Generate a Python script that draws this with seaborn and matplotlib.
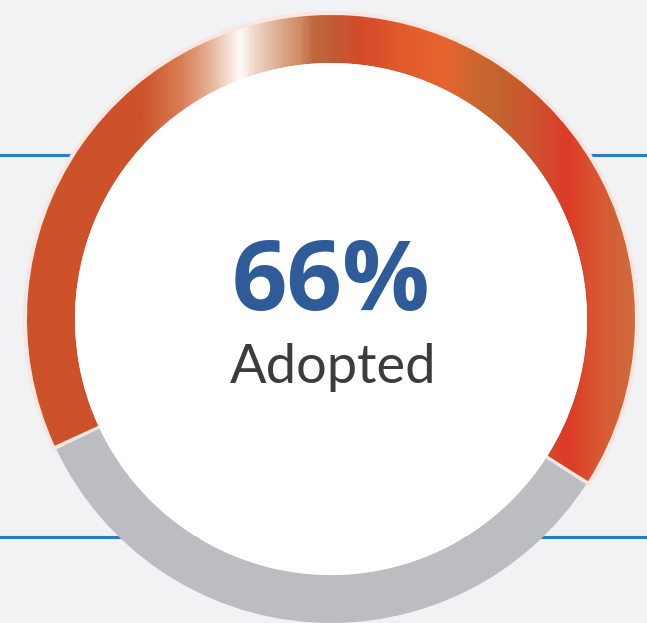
import numpy as np
import matplotlib.pyplot as plt
import seaborn as sns
from matplotlib.patches import Wedge, Circle
from matplotlib.colors import LinearSegmentedColormap

# adoption split shown by the ring
segments = ["Adopted", "Not adopted"]
shares = [66, 34]
caption = "Adopted"

# layout in pixels (y measured up from the bottom)
W, H = 647, 623
CX, CY = 331, H - 319
R_OUT, RING = 304, 48
BORDER = 4
GUIDE_Y = [H - 155, H - 537]

BG = "#f0f2f4"
GREY = "#bbbdc0"
PINK = "#f8e6e0"
BLUE_LINE = "#2b7cc8"
NUM_COLOR = "#2f5b99"
TXT_COLOR = "#3c3c3c"

# metallic orange sheen, stops by horizontal pixel position
SHEEN = [(27, "#cd5229"), (140, "#cd5229"), (180, "#d97c55"), (210, "#e6b49a"),
         (230, "#f5e3d8"), (240, "#fefcf9"), (252, "#f1dcd0"), (277, "#deae93"),
         (300, "#cf8a66"), (313, "#c0683f"), (330, "#c25e37"), (360, "#d34a2a"),
         (400, "#e05a2d"), (443, "#e9652c"), (475, "#cd6630"), (500, "#c2642f"),
         (540, "#d04f2e"), (570, "#dd3a26"), (595, "#d9552f"), (635, "#cf6b3c")]

sns.set_theme(style="white")
plt.rcParams["font.family"] = ["Open Sans", "DejaVu Sans"]

fig = plt.figure(figsize=(W / 100, H / 100), dpi=100, facecolor=BG)
ax = fig.add_axes([0, 0, 1, 1])
ax.set_facecolor(BG)

for y in GUIDE_Y:
    ax.axhline(y, color=BLUE_LINE, lw=2.2, zorder=1)

wedges, _ = ax.pie(shares, startangle=205, counterclock=False, radius=R_OUT,
                   center=(CX, CY), colors=["none", GREY],
                   wedgeprops=dict(width=RING, linewidth=0), frame=True)
for w in wedges:
    w.set_zorder(3)
adopt, rest = wedges

# pale rim and separators around the adopted arc
pad = 0.35
rim = Wedge((CX, CY), R_OUT + BORDER, adopt.theta1 - pad, adopt.theta2 + pad,
            width=RING + BORDER, color=PINK, lw=0, zorder=2)
ax.add_patch(rim)
rest.set_theta1(rest.theta1 + pad)
rest.set_theta2(rest.theta2 - pad)
adopt.set_theta1(adopt.theta1 + pad)
adopt.set_theta2(adopt.theta2 - pad)

x0, x1 = SHEEN[0][0], SHEEN[-1][0]
cmap = LinearSegmentedColormap.from_list(
    "sheen", [((x - x0) / (x1 - x0), c) for x, c in SHEEN])
grad = np.linspace(0, 1, 600).reshape(1, -1)
img = ax.imshow(grad, cmap=cmap, extent=[x0, x1, CY - R_OUT - 5, CY + R_OUT + 5],
                aspect="auto", interpolation="bilinear", zorder=4)
img.set_clip_path(adopt)

ax.add_patch(Circle((CX, CY), R_OUT - RING, color="white", lw=0, zorder=5))

ax.text(331, H - 310, f"{shares[0]}%", ha="center", va="baseline",
        fontsize=70, fontweight="bold", color=NUM_COLOR, zorder=6)
ax.text(333, H - 383, caption, ha="center", va="baseline",
        fontsize=39, fontweight="normal", color=TXT_COLOR, zorder=6,
        family=["Lato", "DejaVu Sans"])

ax.set_xlim(0, W)
ax.set_ylim(0, H)
ax.set_aspect("auto")
ax.axis("off")

fig.savefig("out.png", dpi=100, facecolor=BG)
